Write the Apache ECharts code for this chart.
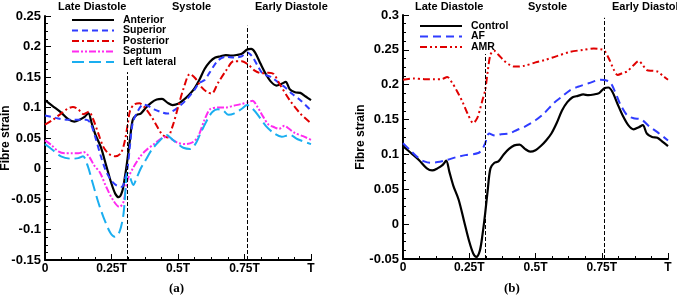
<!DOCTYPE html>
<html>
<head>
<meta charset="utf-8">
<script src="https://cdn.jsdelivr.net/npm/echarts@6/dist/echarts.min.js"></script>
<style>
  html, body { margin: 0; padding: 0; background: #fff; }
  #chart { width: 677px; height: 296px; }
</style>
</head>
<body>
<div id="chart"></div>
<script>
// x 为心动周期的分数 (0 ~ T)
const xTicks = [0, 0.25, 0.5, 0.75, 1];
const phaseBounds = [0.31, 0.76];

// (a) 各区域纤维应变
const anteriorStrain = [
  [0, 0.112], [0.03, 0.102], [0.06, 0.092], [0.09, 0.08], [0.11, 0.077], [0.13, 0.08], [0.15, 0.085],
  [0.163, 0.091], [0.175, 0.075], [0.19, 0.055], [0.21, 0.035], [0.23, 0.005], [0.25, -0.025],
  [0.265, -0.042], [0.277, -0.047], [0.29, -0.038], [0.3, -0.015], [0.31, 0.015], [0.32, 0.05],
  [0.33, 0.08], [0.345, 0.088], [0.36, 0.09], [0.38, 0.1], [0.4, 0.108], [0.42, 0.113], [0.44, 0.114],
  [0.46, 0.108], [0.48, 0.104], [0.5, 0.106], [0.52, 0.112], [0.54, 0.12], [0.56, 0.13], [0.58, 0.145],
  [0.6, 0.163], [0.62, 0.175], [0.64, 0.182], [0.66, 0.184], [0.68, 0.186], [0.7, 0.185], [0.72, 0.186],
  [0.74, 0.188], [0.76, 0.195], [0.775, 0.196], [0.79, 0.19], [0.81, 0.172], [0.83, 0.155], [0.85, 0.142],
  [0.87, 0.136], [0.89, 0.139], [0.905, 0.142], [0.92, 0.13], [0.94, 0.125], [0.96, 0.124], [0.98, 0.118],
  [1, 0.112]
];
const superiorStrain = [
  [0, 0.087], [0.04, 0.083], [0.08, 0.08], [0.12, 0.08], [0.155, 0.08], [0.17, 0.075], [0.19, 0.05],
  [0.21, 0.02], [0.23, -0.005], [0.25, -0.02], [0.27, -0.028], [0.29, -0.03], [0.3, -0.018], [0.31, 0.0],
  [0.32, 0.04], [0.33, 0.075], [0.35, 0.095], [0.37, 0.105], [0.39, 0.102], [0.41, 0.097], [0.44, 0.092],
  [0.46, 0.09], [0.48, 0.094], [0.5, 0.1], [0.53, 0.112], [0.56, 0.128], [0.58, 0.14], [0.6, 0.145],
  [0.62, 0.158], [0.65, 0.177], [0.68, 0.183], [0.71, 0.182], [0.74, 0.184], [0.76, 0.19], [0.78, 0.183],
  [0.8, 0.168], [0.82, 0.155], [0.85, 0.15], [0.88, 0.14], [0.9, 0.134], [0.93, 0.122], [0.96, 0.112],
  [1, 0.095]
];
const posteriorStrain = [
  [0, 0.072], [0.03, 0.08], [0.06, 0.09], [0.085, 0.098], [0.105, 0.101], [0.125, 0.097], [0.145, 0.089],
  [0.165, 0.093], [0.18, 0.082], [0.2, 0.058], [0.22, 0.035], [0.24, 0.024], [0.265, 0.02], [0.285, 0.025],
  [0.3, 0.045], [0.31, 0.07], [0.32, 0.095], [0.335, 0.105], [0.355, 0.107], [0.375, 0.1], [0.4, 0.085],
  [0.42, 0.07], [0.44, 0.056], [0.46, 0.051], [0.48, 0.07], [0.5, 0.1], [0.52, 0.13], [0.545, 0.155],
  [0.565, 0.148], [0.585, 0.135], [0.61, 0.125], [0.627, 0.123], [0.65, 0.14], [0.68, 0.16], [0.71, 0.176],
  [0.74, 0.176], [0.765, 0.17], [0.79, 0.16], [0.815, 0.156], [0.84, 0.157], [0.86, 0.155], [0.88, 0.14],
  [0.92, 0.112], [0.96, 0.09], [1, 0.074]
];
const septumStrain = [
  [0, 0.046], [0.025, 0.038], [0.05, 0.028], [0.075, 0.025], [0.1, 0.025], [0.125, 0.025], [0.145, 0.027],
  [0.165, 0.02], [0.185, 0.005], [0.207, -0.007], [0.23, -0.03], [0.256, -0.052], [0.28, -0.063],
  [0.295, -0.055], [0.31, -0.019], [0.33, 0.0], [0.357, 0.019], [0.38, 0.03], [0.41, 0.04], [0.44, 0.05],
  [0.46, 0.052], [0.48, 0.047], [0.5, 0.042], [0.53, 0.04], [0.555, 0.043], [0.575, 0.052], [0.6, 0.08],
  [0.62, 0.097], [0.65, 0.1], [0.68, 0.1], [0.71, 0.103], [0.74, 0.106], [0.765, 0.109], [0.78, 0.111],
  [0.8, 0.1], [0.82, 0.085], [0.84, 0.072], [0.86, 0.068], [0.88, 0.065], [0.9, 0.07], [0.915, 0.066],
  [0.94, 0.058], [0.97, 0.053], [1, 0.047]
];
const lateralStrain = [
  [0, 0.04], [0.03, 0.03], [0.06, 0.02], [0.1, 0.016], [0.125, 0.017], [0.143, 0.02], [0.16, 0.005],
  [0.18, -0.025], [0.2, -0.055], [0.22, -0.08], [0.245, -0.105], [0.263, -0.112], [0.28, -0.104],
  [0.295, -0.075], [0.305, -0.02], [0.31, -0.007], [0.32, -0.015], [0.332, -0.027], [0.345, -0.015],
  [0.36, 0.0], [0.38, 0.015], [0.4, 0.03], [0.43, 0.045], [0.457, 0.055], [0.48, 0.047], [0.5, 0.04],
  [0.52, 0.034], [0.545, 0.032], [0.565, 0.04], [0.585, 0.058], [0.61, 0.08], [0.63, 0.093], [0.65, 0.097],
  [0.67, 0.095], [0.69, 0.088], [0.71, 0.09], [0.74, 0.098], [0.76, 0.104], [0.78, 0.098], [0.8, 0.088],
  [0.83, 0.07], [0.86, 0.058], [0.89, 0.052], [0.92, 0.055], [0.95, 0.048], [1, 0.04]
];

// (b) 平均纤维应变
const controlStrain = anteriorStrain; // 与 Anterior 曲线相同
const afStrain = [
  [0, 0.116], [0.03, 0.105], [0.058, 0.095], [0.08, 0.09], [0.103, 0.088], [0.13, 0.089], [0.165, 0.092],
  [0.2, 0.096], [0.235, 0.099], [0.284, 0.102], [0.3, 0.108], [0.31, 0.116], [0.325, 0.13], [0.347, 0.127],
  [0.37, 0.129], [0.4, 0.13], [0.43, 0.135], [0.46, 0.14], [0.5, 0.149], [0.53, 0.158], [0.57, 0.174],
  [0.6, 0.183], [0.63, 0.192], [0.66, 0.197], [0.7, 0.202], [0.745, 0.207], [0.78, 0.204], [0.8, 0.19],
  [0.82, 0.172], [0.846, 0.156], [0.87, 0.152], [0.9, 0.15], [0.93, 0.14], [0.96, 0.132], [1, 0.12]
];
const amrStrain = [
  [0, 0.207], [0.04, 0.209], [0.08, 0.208], [0.12, 0.208], [0.145, 0.208], [0.167, 0.211], [0.185, 0.203],
  [0.205, 0.19], [0.225, 0.175], [0.243, 0.159], [0.265, 0.145], [0.28, 0.152], [0.29, 0.164], [0.3, 0.178],
  [0.31, 0.192], [0.32, 0.22], [0.33, 0.243], [0.343, 0.249], [0.36, 0.243], [0.38, 0.235], [0.4, 0.229],
  [0.42, 0.226], [0.457, 0.227], [0.5, 0.232], [0.532, 0.235], [0.58, 0.241], [0.63, 0.247], [0.68, 0.25],
  [0.72, 0.252], [0.745, 0.251], [0.76, 0.249], [0.78, 0.235], [0.795, 0.222], [0.81, 0.214], [0.83, 0.217],
  [0.846, 0.219], [0.87, 0.228], [0.89, 0.234], [0.905, 0.228], [0.92, 0.221], [0.94, 0.22], [0.96, 0.219],
  [0.98, 0.213], [1, 0.207]
];

const FONT = "Arial, 'Liberation Sans', sans-serif";
const SERIF = "'Liberation Serif', 'DejaVu Serif', serif";
const BLACK = "#000";

function xAxisCfg(gridIndex) {
  return {
    type: "value", gridIndex: gridIndex, min: 0, max: 1, interval: 0.25,
    axisLine: { onZero: false, lineStyle: { color: BLACK, width: 2 } },
    axisTick: { inside: true, length: 6, lineStyle: { color: BLACK, width: 1 } },
    minorTick: { show: true, splitNumber: 4, length: 3, lineStyle: { color: BLACK } },
    splitLine: { show: false },
    axisLabel: {
      color: BLACK, fontFamily: FONT, fontWeight: "bold", fontSize: 12, margin: 3,
      formatter: (v) => (v === 0 ? "0" : v === 1 ? "T" : v + "T"),
    },
  };
}

function yAxisCfg(gridIndex, min, max, nameGap) {
  return {
    type: "value", gridIndex: gridIndex, min: min, max: max, interval: 0.05,
    name: "Fibre strain", nameLocation: "middle", nameGap: nameGap, nameMoveOverlap: false,
    nameTextStyle: { color: BLACK, fontFamily: FONT, fontWeight: "bold", fontSize: 12 },
    axisLine: { show: true, lineStyle: { color: BLACK, width: 2 } },
    axisTick: { inside: true, length: 6, lineStyle: { color: BLACK, width: 1 } },
    minorTick: { show: true, splitNumber: 4, length: 3, lineStyle: { color: BLACK } },
    splitLine: { show: false },
    axisLabel: { color: BLACK, fontFamily: FONT, fontWeight: "bold", fontSize: 13, margin: 4 },
  };
}

function lineSeries(name, data, gridIndex, color, type, width) {
  return {
    name: name, type: "line", xAxisIndex: gridIndex, yAxisIndex: gridIndex,
    data: data, symbol: "none", smooth: 0.3, z: 3,
    lineStyle: { color: color, type: type, width: width || 2 },
    itemStyle: { color: color },
  };
}

// 阶段分界虚线
function phaseMarks(yMin, tops) {
  return {
    silent: true, symbol: "none", label: { show: false },
    lineStyle: { color: BLACK, type: [4, 2], width: 1 },
    data: phaseBounds.map((t, i) => [{ coord: [t, yMin] }, { coord: [t, tops[i]] }]),
  };
}

const seriesA = [
  lineSeries("Anterior", anteriorStrain, 0, "#000000", "solid", 2.2),
  lineSeries("Superior", superiorStrain, 0, "#2f3cff", [6, 4]),
  lineSeries("Posterior", posteriorStrain, 0, "#e00000", [7, 3, 2, 3]),
  lineSeries("Septum", septumStrain, 0, "#ff2bf0", [7, 2, 2, 2, 2, 2]),
  lineSeries("Left lateral", lateralStrain, 0, "#1aaef0", [12, 5]),
];
seriesA[0].markLine = phaseMarks(-0.15, [0.158, 0.234]);

const seriesB = [
  lineSeries("Control", controlStrain, 1, "#000000", "solid", 2.2),
  lineSeries("AF", afStrain, 1, "#2f3cff", [8, 5]),
  lineSeries("AMR", amrStrain, 1, "#e00000", [7, 3, 2, 3, 2, 3]),
];
seriesB[0].markLine = phaseMarks(-0.05, [0.244, 0.296]);

function legendCfg(names, left, top) {
  return {
    data: names, orient: "vertical", left: left, top: top, padding: 0,
    itemWidth: 42, itemHeight: 8, itemGap: -0.5,
    itemStyle: { opacity: 0 },
    textStyle: {
      color: BLACK, fontFamily: FONT, fontWeight: "bold", fontSize: 10.5,
      lineHeight: 9.5, padding: [0, 0, 0, 4],
    },
  };
}

function phaseText(x, text) {
  return { type: "text", x: x, y: 1, style: { text: text, fill: BLACK, font: "bold 11px " + FONT } };
}

const chart = echarts.init(document.getElementById("chart"), null, { renderer: "canvas" });

const option = {
  backgroundColor: "#fff",
  animation: false,
  grid: [
    { left: 45, right: 366, top: 16, bottom: 36, outerBoundsMode: "none" },
    { left: 403, right: 9, top: 15, bottom: 37, outerBoundsMode: "none" },
  ],
  xAxis: [xAxisCfg(0), xAxisCfg(1)],
  yAxis: [yAxisCfg(0, -0.15, 0.25, 33), yAxisCfg(1, -0.05, 0.3, 36)],
  legend: [
    legendCfg(seriesA.map((s) => s.name), 71, 14.5),
    legendCfg(seriesB.map((s) => s.name), 419, 20.5),
  ],
  graphic: [
    phaseText(58, "Late Diastole"),
    phaseText(172, "Systole"),
    phaseText(255, "Early Diastole"),
    phaseText(415, "Late Diastole"),
    phaseText(528, "Systole"),
    phaseText(612, "Early Diastole"),
    { type: "text", x: 169, y: 282, style: { text: "(a)", fill: BLACK, font: "bold 13px " + SERIF } },
    { type: "text", x: 504, y: 282, style: { text: "(b)", fill: BLACK, font: "bold 13px " + SERIF } },
  ],
  series: seriesA.concat(seriesB),
};

option && chart.setOption(option);
</script>
</body>
</html>
